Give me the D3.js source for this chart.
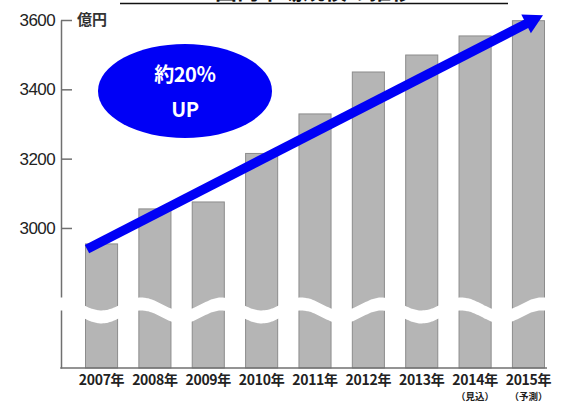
<!DOCTYPE html>
<html>
<head>
<meta charset="utf-8">
<script src="https://cdn.jsdelivr.net/npm/d3@7"></script>
<style>
    body { margin: 0; background: #fff; }
    svg { display: block; }
</style>
</head>
<body>
<div id="chart"></div>
<script>
// data
const years = ["2007年", "2008年", "2009年", "2010年", "2011年", "2012年", "2013年", "2014年", "2015年"]
const subLabels = ["", "", "", "", "", "", "", "（見込）", "（予測）"]
const sales = [2954, 3055, 3075, 3215, 3329, 3450, 3499, 3554, 3598]
const yTicks = [3000, 3200, 3400, 3600]
const unitLabel = "億円"
const badgeLines = ["約20％", "UP"]
const titleText = "国内市場規模の推移"

// arrow ends, in data terms
const arrowFrom = { year: "2007年", value: 2939 }
const arrowTo = { year: "2015年", value: 3614 }

const width = 565
const height = 403

const svg = d3.select("#chart")
    .append("svg")
    .attr("width", width)
    .attr("height", height)

// scales
const xScale = d3.scaleBand()
    .domain(years)
    .range([85, 545])
    .paddingInner(0.38)
    .paddingOuter(0)

const yScale = d3.scaleLinear()
    .domain([2596, 3600])
    .range([368, 20])

const baseY = yScale(2596)
const axisX = 61

// title (mostly cut off at top of the image)
svg.append("text")
    .attr("x", 314)
    .attr("y", -1.5)
    .attr("text-anchor", "middle")
    .attr("font-family", "'Noto Sans CJK JP'")
    .attr("font-weight", "bold")
    .attr("font-size", 22)
    .attr("fill", "#111")
    .text(titleText)

svg.append("line")
    .attr("x1", 120).attr("x2", 508)
    .attr("y1", 3.5).attr("y2", 3.5)
    .attr("stroke", "#111")
    .attr("stroke-width", 1.5)

// bars
svg.append("g")
    .selectAll("rect")
    .data(years)
    .join("rect")
    .attr("x", d => xScale(d) + 0.5)
    .attr("y", (d, i) => yScale(sales[i]))
    .attr("width", xScale.bandwidth() - 1)
    .attr("height", (d, i) => baseY - yScale(sales[i]))
    .attr("fill", "#b5b5b5")
    .attr("stroke", "#8c8c8c")
    .attr("stroke-width", 1)

// y axis: ticks point inward, labels on the left
const yAxis = svg.append("g")
    .attr("transform", `translate(${axisX},0)`)
    .call(d3.axisLeft(yScale)
        .tickValues(yTicks)
        .tickSizeInner(-11)
        .tickSizeOuter(0)
        .tickPadding(6)
        .tickFormat(d3.format("d")))

yAxis.select(".domain").attr("stroke", "#707070").attr("stroke-width", 1.5)
yAxis.selectAll(".tick line").attr("stroke", "#707070").attr("stroke-width", 1.5)
yAxis.selectAll(".tick text")
    .attr("font-family", "'Liberation Sans', Arial, sans-serif")
    .attr("font-size", 17)
    .attr("letter-spacing", -0.6)
    .attr("fill", "#222")

svg.append("text")
    .attr("x", 77)
    .attr("y", 20)
    .attr("dy", "0.35em")
    .attr("font-family", "'Noto Sans CJK JP'")
    .attr("font-weight", "bold")
    .attr("font-size", 15)
    .attr("fill", "#333")
    .text(unitLabel)

// x axis base line
svg.append("line")
    .attr("x1", axisX - 0.75).attr("x2", 547)
    .attr("y1", baseY).attr("y2", baseY)
    .attr("stroke", "#707070")
    .attr("stroke-width", 1.5)

// wavy break band across axis and bars
const bandStep = xScale.step()
const waveX0 = xScale(years[0]) + xScale.bandwidth() / 2
const waveXs = d3.range(48, 562, 2)
const waveMid = x => 310.5 + 6.5 * Math.cos(2 * Math.PI * (x - waveX0) / (1.5 * bandStep))
svg.append("path")
    .datum(waveXs)
    .attr("d", d3.area()
        .x(d => d)
        .y0(d => waveMid(d) - 6.5)
        .y1(d => waveMid(d) + 6.5)
        .curve(d3.curveBasis))
    .attr("fill", "#fff")

// x labels
const xLabels = svg.append("g")
    .attr("font-family", "'Noto Sans CJK JP'")
    .attr("font-weight", "bold")
    .attr("fill", "#222")
    .attr("text-anchor", "middle")

xLabels.selectAll("text.year")
    .data(years)
    .join("text")
    .attr("class", "year")
    .attr("x", d => xScale(d) + xScale.bandwidth() / 2)
    .attr("y", 384.5)
    .attr("font-size", 14)
    .attr("letter-spacing", -0.3)
    .text(d => d)

xLabels.selectAll("text.sub")
    .data(years)
    .join("text")
    .attr("class", "sub")
    .attr("x", d => xScale(d) + xScale.bandwidth() / 2)
    .attr("y", 400)
    .attr("font-size", 9.5)
    .text((d, i) => subLabels[i])

// blue arrow
const ax0 = xScale(arrowFrom.year) + 2
const ay0 = yScale(arrowFrom.value)
const ax1 = xScale(arrowTo.year) + xScale.bandwidth() - 2
const ay1 = yScale(arrowTo.value)
const len = Math.hypot(ax1 - ax0, ay1 - ay0)
const ux = (ax1 - ax0) / len, uy = (ay1 - ay0) / len
const headLen = 19, headHalf = 10.5
const bx = ax1 - ux * headLen, by = ay1 - uy * headLen

svg.append("line")
    .attr("x1", ax0).attr("y1", ay0)
    .attr("x2", bx + ux).attr("y2", by + uy)
    .attr("stroke", "#0000f6")
    .attr("stroke-width", 9.5)

svg.append("path")
    .attr("d", `M${ax1},${ay1}L${bx - uy * headHalf},${by + ux * headHalf}L${bx + uy * headHalf},${by - ux * headHalf}Z`)
    .attr("fill", "#0000f6")

// "約20% UP" badge
const badge = svg.append("g").attr("transform", "translate(185,91)")
badge.append("ellipse")
    .attr("rx", 87)
    .attr("ry", 47)
    .attr("fill", "#0000f6")

badge.selectAll("text")
    .data(badgeLines)
    .join("text")
    .attr("x", 0)
    .attr("y", (d, i) => i === 0 ? -16 : 19)
    .attr("dy", "0.35em")
    .attr("text-anchor", "middle")
    .attr("font-family", "'Noto Sans CJK JP'")
    .attr("font-weight", "bold")
    .attr("font-size", 20)
    .attr("letter-spacing", -0.5)
    .attr("fill", "#fff")
    .text(d => d)
</script>
</body>
</html>
